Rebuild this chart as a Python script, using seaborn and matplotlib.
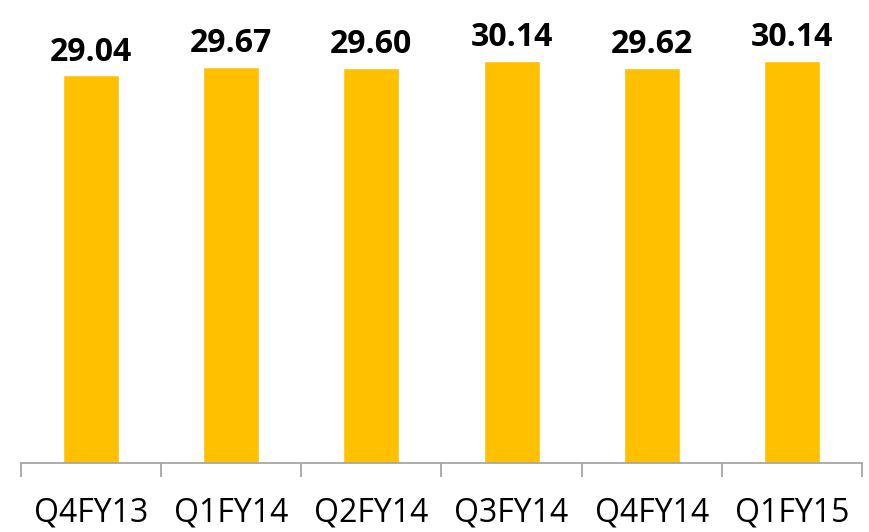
import numpy as np
import pandas as pd
import matplotlib
matplotlib.use("Agg")
import matplotlib.pyplot as plt
import seaborn as sns

# chart data
quarters = ["Q4FY13", "Q1FY14", "Q2FY14", "Q3FY14", "Q4FY14", "Q1FY15"]
values = [29.04, 29.67, 29.60, 30.14, 29.62, 30.14]

sns.set_theme(style="white")
plt.rcParams['font.family'] = ['Open Sans', 'DejaVu Sans']

df = pd.DataFrame({"quarter": quarters, "value": values})

fig = plt.figure(figsize=(8.69, 5.32), dpi=100)
ax = fig.add_axes([0.024, 0.13, 0.968, 0.87])

sns.barplot(data=df, x="quarter", y="value", color="#FFC000", saturation=1,
            width=0.4, ax=ax)

ax.set_xlim(-0.5, len(quarters) - 0.5)
ax.set_ylim(0, 34.7)

# value labels above bars
for i, v in enumerate(values):
    ax.annotate(f"{v:.2f}", (i, v), xytext=(0, 5), textcoords="offset points",
                ha="center", va="bottom", fontsize=23, fontweight="bold", color="black")

# axis styling
for side in ["top", "right", "left"]:
    ax.spines[side].set_visible(False)
ax.spines["bottom"].set_color("#A6A6A6")
ax.spines["bottom"].set_linewidth(1.3)
ax.set_yticks([])
ax.set_xlabel("")
ax.set_ylabel("")
ax.tick_params(axis="x", which="major", bottom=True, length=0, labelsize=23,
               pad=24, colors="black")
ax.set_xticks(np.arange(-0.5, len(quarters)), minor=True)
ax.tick_params(axis="x", which="minor", bottom=True, length=10, width=1.3,
               color="#A6A6A6", direction="out")

plt.savefig("out.png", dpi=100)
plt.close()
